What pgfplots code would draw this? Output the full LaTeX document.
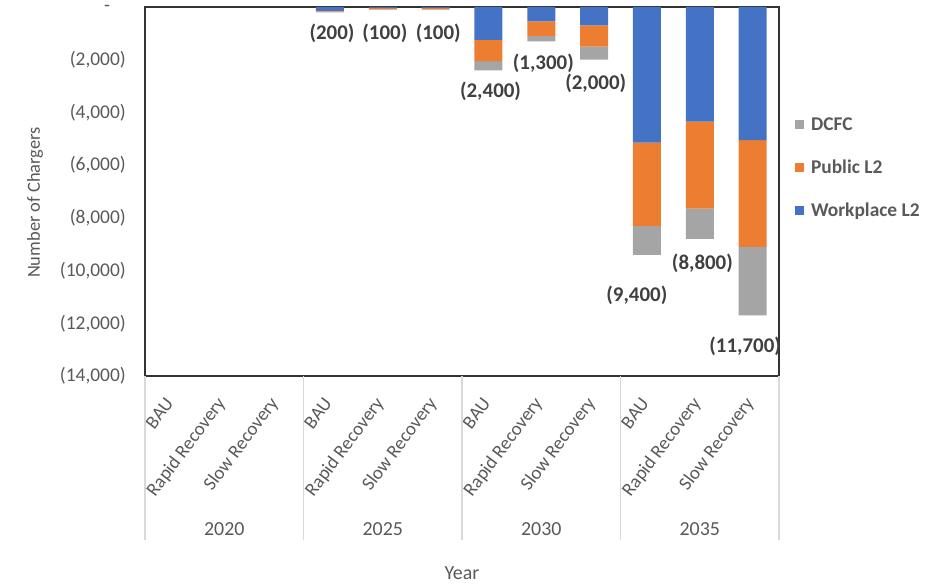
\documentclass[border=0pt]{standalone}
\usepackage{fontspec}
\setmainfont{Carlito}
\usepackage{pgfplots}
\usepackage{pgfplotstable}
\pgfplotsset{compat=1.18}
\definecolor{cBlue}{HTML}{4472C4}
\definecolor{cOrange}{HTML}{ED7D31}
\definecolor{cGray}{HTML}{A5A5A5}
\definecolor{tGray}{HTML}{595959}
\definecolor{dGray}{HTML}{404040}
\definecolor{sepGray}{HTML}{D9D9D9}

\pgfplotstableread{
x W P D
0 0 0 0
1 0 0 0
2 0 0 0
3 -150 -30 -20
4 -20 -60 -20
5 -20 -60 -20
6 -1250 -800 -350
7 -550 -550 -200
8 -700 -800 -500
9 -5150 -3150 -1100
10 -4350 -3300 -1150
11 -5050 -4050 -2600
}\chargers

\pgfplotstableread{
x y lab
3.04 -1000 (200)
4.04 -1000 (100)
5.05 -1000 (100)
6.04 -3190 (2,400)
7.04 -2140 (1,300)
8.03 -2880 (2,000)
8.81 -10925 (9,400)
10.05 -9730 (8,800)
10.86 -12880 (11,700)
}\totals

\pgfplotsset{
  base/.style={scale only axis, width=634bp, height=369bp,
    xmin=-0.5, xmax=11.5, ymin=-14000, ymax=0,
    at={(0,0)}, anchor=south west},
}

\begin{document}
\begin{tikzpicture}
\path[use as bounding box] (-145bp,-208bp) rectangle (785bp,376bp);
\begin{axis}[base, ybar stacked, bar width=28bp, clip=false,
  axis line style={draw=black!80, line width=1.5bp},
  major tick length=0pt,
  xtick={0,...,11},
  xticklabels={BAU,Rapid Recovery,Slow Recovery,BAU,Rapid Recovery,Slow Recovery,BAU,Rapid Recovery,Slow Recovery,BAU,Rapid Recovery,Slow Recovery},
  xticklabel style={font=\fontsize{19}{22}\selectfont, text=tGray, xshift=-2bp, yshift=-24bp, rotate=53, anchor=east, inner sep=0pt},
  ytick={-14000,-12000,-10000,-8000,-6000,-4000,-2000,0},
  yticklabels={{(14,000)},{(12,000)},{(10,000)},{(8,000)},{(6,000)},{(4,000)},{(2,000)},{\raisebox{-0.24em}[0pt][0pt]{-\phantom{0)}}}},
  yticklabel style={font=\fontsize{19.5}{23}\selectfont, text=tGray, anchor=east, inner sep=0pt, xshift=-19bp},
  ylabel={Number of Chargers},
  ylabel style={at={(axis description cs:-0.1735,0.47)}, anchor=center, font=\fontsize{18.5}{22}\selectfont, text=tGray},
  xlabel={Year},
  xlabel style={at={(axis description cs:0.5,0)}, anchor=center, yshift=-197bp, font=\fontsize{20}{24}\selectfont, text=tGray},
  reverse legend,
  legend style={at={(1.025,0.564)}, anchor=west, draw=none, fill=none,
    font=\bfseries\fontsize{19.5}{23}\selectfont, text=tGray, row sep=24bp, inner xsep=0pt,
    /tikz/every odd column/.style={column sep=5bp}},
  legend cell align=left,
]
\addplot[fill=cBlue, draw=none, legend image code/.code={\fill[cBlue] (0bp,-4.5bp) rectangle (9bp,4.5bp);}] table[x=x, y=W] {\chargers};
\addlegendentry{Workplace L2}
\addplot[fill=cOrange, draw=none, legend image code/.code={\fill[cOrange] (0bp,-4.5bp) rectangle (9bp,4.5bp);}] table[x=x, y=P] {\chargers};
\addlegendentry{Public L2}
\addplot[fill=cGray, draw=none, legend image code/.code={\fill[cGray] (0bp,-4.5bp) rectangle (9bp,4.5bp);}] table[x=x, y=D] {\chargers};
\addlegendentry{DCFC}
\draw[sepGray, line width=1.2bp] (axis cs:-0.5,-14000) -- ++(0bp,-164bp);
\draw[sepGray, line width=1.2bp] (axis cs:2.5,-14000) -- ++(0bp,-164bp);
\draw[sepGray, line width=1.2bp] (axis cs:5.5,-14000) -- ++(0bp,-164bp);
\draw[sepGray, line width=1.2bp] (axis cs:8.5,-14000) -- ++(0bp,-164bp);
\draw[sepGray, line width=1.2bp] (axis cs:11.5,-14000) -- ++(0bp,-164bp);
\node[font=\fontsize{20}{24}\selectfont, text=tGray] at ([yshift=-153bp]axis cs:1,-14000) {2020};
\node[font=\fontsize{20}{24}\selectfont, text=tGray] at ([yshift=-153bp]axis cs:4,-14000) {2025};
\node[font=\fontsize{20}{24}\selectfont, text=tGray] at ([yshift=-153bp]axis cs:7,-14000) {2030};
\node[font=\fontsize{20}{24}\selectfont, text=tGray] at ([yshift=-153bp]axis cs:10,-14000) {2035};
\end{axis}
\begin{axis}[base, hide axis, clip=false]
\addplot[only marks, mark=none, nodes near coords, point meta=explicit symbolic,
  nodes near coords style={anchor=center, font=\bfseries\fontsize{21}{25}\selectfont, text=dGray}]
  table[x=x, y=y, meta=lab] {\totals};
\end{axis}
\end{tikzpicture}
\end{document}
